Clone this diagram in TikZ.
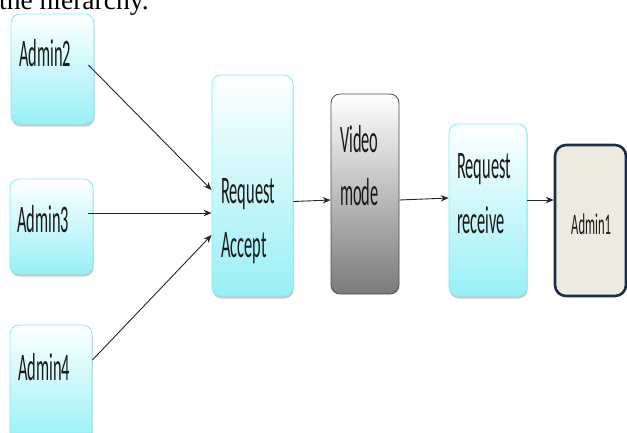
\documentclass[tikz,border=0pt]{standalone}
\usepackage{fontspec}
\usepackage{tikz}
\usetikzlibrary{arrows.meta,shadows}

\setmainfont{Liberation Serif}
\newfontfamily\boxfont[FakeStretch=0.42]{Carlito}

\definecolor{boxcyan}{HTML}{98F0F6}
\definecolor{boxrim}{HTML}{7CEEF4}
\definecolor{adminfill}{HTML}{EDEADF}
\definecolor{adminrim}{HTML}{1B2F4B}

\tikzset{
  cyanbox/.style={rectangle, rounded corners=9pt, draw=boxrim, line width=0.8pt,
    top color=white, bottom color=boxcyan, inner sep=0pt,
    drop shadow={shadow xshift=0.6pt, shadow yshift=-2.5pt, fill=gray!70, opacity=0.6}},
  graybox/.style={rectangle, rounded corners=9pt, draw=gray!60!black, line width=0.8pt,
    top color=white, bottom color=black!52, inner sep=0pt},
  adminbox/.style={rectangle, rounded corners=11pt, draw=adminrim, line width=2.6pt,
    fill=adminfill, inner sep=0pt},
  boxtext/.style={inner sep=0pt, anchor=base west, align=left, text=black!90,
    font=\boxfont\fontsize{39}{54}\selectfont},
  link/.style={->, line width=0.9pt, draw=black!85}
}

\begin{document}
\begin{tikzpicture}[x=1pt, y=-1pt, >={Stealth[length=8pt,width=6.5pt]}]
  % page window (627 x 432)
  \useasboundingbox (0,0) rectangle (627,432);
  \clip (0,0) rectangle (627,432);

  % end of the line above, cut by the page
  \node[inner sep=0pt, anchor=base west, font=\fontsize{27.5}{30}\selectfont] (caption) at (-1,9) {the hierarchy.};

  % boxes
  \node[cyanbox, minimum width=83pt, minimum height=110pt] (a2) at (52.5,69) {};
  \node[cyanbox, minimum width=83pt, minimum height=95pt] (a3) at (51.5,226.5) {};
  \node[cyanbox, minimum width=82pt, minimum height=116pt] (a4) at (51,383) {};
  \node[cyanbox, minimum width=81pt, minimum height=221pt] (accept) at (252.5,185.5) {};
  \node[graybox, minimum width=68pt, minimum height=200pt] (video) at (365,194) {};
  \node[cyanbox, minimum width=78pt, minimum height=172pt] (receive) at (488,210) {};
  \node[adminbox, minimum width=71pt, minimum height=151pt] (a1) at (590.5,220.5) {};

  % texts (base = last line)
  \node[boxtext] (a2txt) at (19,66) {Admin2};
  \node[boxtext] (a3txt) at (17,232) {Admin3};
  \node[boxtext] (a4txt) at (18,380) {Admin4};
  \node[boxtext] (accepttxt) at (221,257) {Request\\Accept};
  \node[boxtext, font=\boxfont\fontsize{39}{53}\selectfont] (videotxt) at (340,205) {Video\\mode};
  \node[boxtext, font=\boxfont\fontsize{39}{55}\selectfont] (receivetxt) at (457,233) {Request\\receive};
  \node[boxtext, font=\boxfont\fontsize{30}{34}\selectfont] (a1txt) at (571,234) {Admin1};

  % connectors
  \draw[link] ([shift={(-6pt,4pt)}]a2.east) -- ([yshift=-4.5pt]accept.west);
  \draw[link] ([xshift=-5pt, yshift=13.5pt]a3.east) -- ([yshift=-27.5pt]accept.west);
  \draw[link] ([yshift=23pt]a4.east) -- ([yshift=-49.5pt]accept.west);
  \draw[link] ([yshift=-16pt]accept.east) -- ([yshift=-6pt]video.west);
  \draw[link] ([yshift=-6pt]video.east) -- ([yshift=12pt]receive.west);
  \draw[link] ([yshift=10pt]receive.east) -- ([yshift=20.5pt]a1.west);
\end{tikzpicture}
\end{document}
